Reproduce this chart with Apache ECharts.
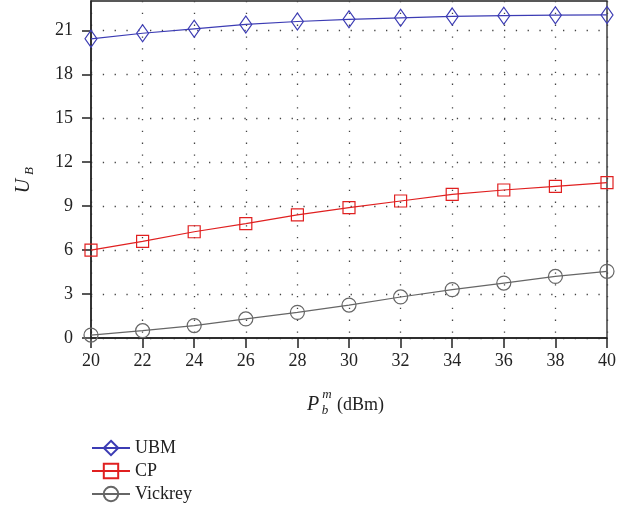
<!DOCTYPE html>
<html><head><meta charset="utf-8">
<script src="https://cdn.jsdelivr.net/npm/echarts@6/dist/echarts.min.js"></script>
<style>html,body{margin:0;padding:0;background:#fff}#c{width:644px;height:516px}</style>
</head><body><div id="c"></div>
<script>
const xValues = [20, 22, 24, 26, 28, 30, 32, 34, 36, 38, 40];
const ubm = [20.42, 20.8, 21.1, 21.4, 21.6, 21.75, 21.85, 21.95, 22.0, 22.03, 22.05];
const cp = [6.0, 6.6, 7.25, 7.8, 8.4, 8.9, 9.35, 9.8, 10.1, 10.35, 10.6];
const vickrey = [0.2, 0.5, 0.85, 1.3, 1.75, 2.25, 2.8, 3.3, 3.75, 4.2, 4.55];
const yTicks = [0, 3, 6, 9, 12, 15, 18, 21];
const xTicks = [20, 22, 24, 26, 28, 30, 32, 34, 36, 38, 40];

const FONT = '"Liberation Serif", "DejaVu Serif", serif';
const chart = echarts.init(document.getElementById('c'));
const pair = (arr) => xValues.map((x, i) => [x, arr[i]]);
const dotted = { color: '#444', width: 1.3, type: [1.3, 10.5] };

function series(name, data, color, symbol, size) {
  return {
    name, type: 'line', data: pair(data), symbol, symbolSize: size,
    lineStyle: { color, width: 1.2 },
    itemStyle: { color: 'rgba(255,255,255,0)', borderColor: color, borderWidth: 1.2 },
    emphasis: { disabled: true }, z: 3
  };
}

chart.setOption({
  animation: false,
  grid: { left: 91, right: 37, top: 1, bottom: 178, show: true, borderColor: '#222', borderWidth: 1.3, backgroundColor: 'transparent' },
  xAxis: {
    type: 'value', min: 20, max: 40, interval: 2,
    axisLine: { show: true, lineStyle: { color: '#222', width: 1.5 } },
    axisTick: { show: true, length: 10, lineStyle: { color: '#222', width: 1.5 } },
    axisLabel: { fontFamily: FONT, fontSize: 18, color: '#222', margin: 14 },
    splitLine: { show: true, lineStyle: dotted }
  },
  yAxis: {
    type: 'value', min: 0, max: 23, interval: 3,
    axisLine: { show: true, lineStyle: { color: '#222', width: 1.5 } },
    axisTick: { show: true, length: 9, customValues: yTicks, lineStyle: { color: '#222', width: 1.5 } },
    axisLabel: { fontFamily: FONT, fontSize: 18, color: '#222', margin: 18, customValues: yTicks },
    splitLine: { show: true, lineStyle: dotted }
  },
  legend: {
    orient: 'vertical', left: 86, top: 434, itemWidth: 38, itemHeight: 18, itemGap: 5,
    textStyle: { fontFamily: FONT, fontSize: 18, color: '#222' },
    data: ['UBM', 'CP', 'Vickrey']
  },
  series: [
    series('UBM', ubm, '#3c3cb4', 'diamond', [12, 17]),
    series('CP', cp, '#e02020', 'rect', 12),
    series('Vickrey', vickrey, '#666666', 'circle', 14)
  ],
  graphic: [
    { type: 'group', x: 24, y: 178, rotation: Math.PI / 2, children: [
      { type: 'text', x: -8, y: 0, style: { text: 'U', font: 'italic 20px ' + FONT, fill: '#222', align: 'center', verticalAlign: 'middle' } },
      { type: 'text', x: 7, y: 6, style: { text: 'B', font: 'italic 13px ' + FONT, fill: '#222', align: 'center', verticalAlign: 'middle' } }
    ]},
    { type: 'text', x: 313, y: 405, style: { text: 'P', font: 'italic 20px ' + FONT, fill: '#222', align: 'center', verticalAlign: 'middle' } },
    { type: 'text', x: 327, y: 395, style: { text: 'm', font: 'italic 13px ' + FONT, fill: '#222', align: 'center', verticalAlign: 'middle' } },
    { type: 'text', x: 325, y: 411, style: { text: 'b', font: 'italic 13px ' + FONT, fill: '#222', align: 'center', verticalAlign: 'middle' } },
    { type: 'text', x: 337, y: 405, style: { text: '(dBm)', font: '18px ' + FONT, fill: '#222', align: 'left', verticalAlign: 'middle' } }
  ]
});
</script></body></html>
